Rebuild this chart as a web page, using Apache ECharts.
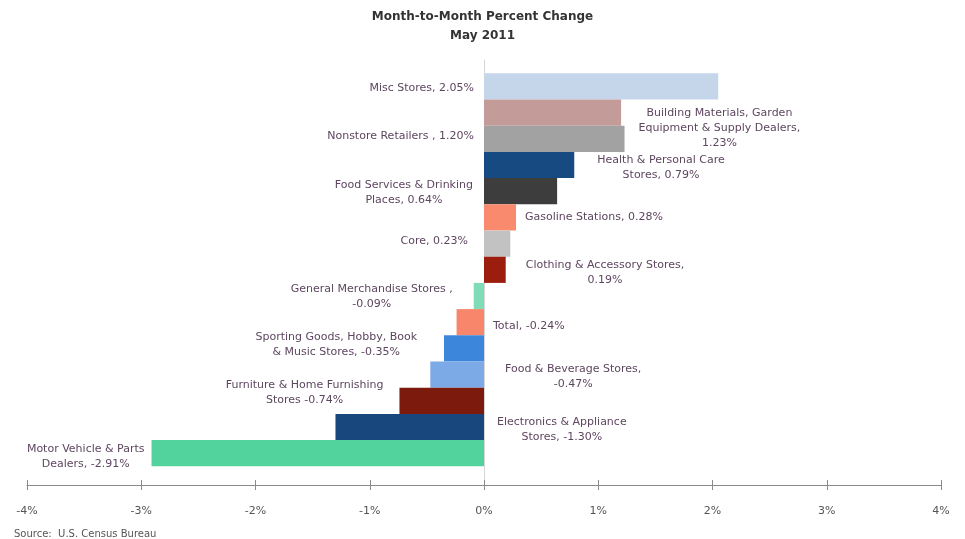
<!DOCTYPE html>
<html>
<head>
<meta charset="utf-8">
<script src="https://cdn.jsdelivr.net/npm/echarts@6/dist/echarts.min.js"></script>
<style>
  html, body { margin: 0; padding: 0; background: #ffffff; }
  #chart { width: 965px; height: 539px; }
</style>
</head>
<body>
<div id="chart"></div>
<script>
// ---------------- DATA ----------------
const categories = [
  "Misc Stores",
  "Nonstore Retailers",
  "Building Materials, Garden Equipment & Supply Dealers",
  "Health & Personal Care Stores",
  "Food Services & Drinking Places",
  "Gasoline Stations",
  "Core",
  "Clothing & Accessory Stores",
  "General Merchandise Stores",
  "Total",
  "Sporting Goods, Hobby, Book & Music Stores",
  "Food & Beverage Stores",
  "Furniture & Home Furnishing Stores",
  "Electronics & Appliance Stores",
  "Motor Vehicle & Parts Dealers"
];
const values = [2.05, 1.20, 1.23, 0.79, 0.64, 0.28, 0.23, 0.19, -0.09, -0.24, -0.35, -0.47, -0.74, -1.30, -2.91];
const labelPrefixes = [
  "Misc Stores, ",
  "Nonstore Retailers , ",
  "Building Materials, Garden\nEquipment & Supply Dealers,\n",
  "Health & Personal Care\nStores, ",
  "Food Services & Drinking\nPlaces, ",
  "Gasoline Stations, ",
  "Core, ",
  "Clothing & Accessory Stores,\n",
  "General Merchandise Stores ,\n",
  "Total, ",
  "Sporting Goods, Hobby, Book\n& Music Stores, ",
  "Food & Beverage Stores,\n",
  "Furniture & Home Furnishing\nStores ",
  "Electronics & Appliance\nStores, ",
  "Motor Vehicle & Parts\nDealers, "
];
const xMin = -4, xMax = 4, xStep = 1;
const titleLines = ["Month-to-Month Percent Change", "May 2011"];
const sourceText = "Source:  U.S. Census Bureau";

// ---------------- STYLE ----------------
const palette = ["#c5d5ea", "#c39b99", "#a2a2a2", "#164a80", "#3d3d3d", "#fa8a6e", "#c2c2c2", "#9a1d0d",
                 "#80dcb6", "#f8866b", "#3c87dc", "#7caae6", "#7b1a0d", "#17477d", "#52d39d"];
const labelSide = ["left","left","right","right","left","right","left","right","left","right","left","right","left","right","left"];
const labelDy   = [1.5, 24, -11, 2.5, 1, 0, -2, 3, 1, 4, -4, 2, -8, 3, 3];
const labelGap  = [10, 10, 14, 23, 11, 9, 16, 20, 21, 9, 27, 21, 16, 13, 7];
const FONT = '"DejaVu Sans", Verdana, sans-serif';
const LABEL_SIZE = 11;
const textColor = "#5e4660";

const ctx = document.createElement("canvas").getContext("2d");
ctx.font = LABEL_SIZE + "px " + FONT;
function blockWidth(t) {
  return Math.max.apply(null, t.split("\n").map(s => ctx.measureText(s).width));
}

const GRID_LEFT = 27, GRID_W = 914;
const BAR_TOP = 73.3, BAR_H = 393;
const AXIS_Y = 485, LINE_TOP = 60;

const barData = values.map((v, i) => {
  const txt = labelPrefixes[i] + v.toFixed(2) + "%";
  const w = blockWidth(txt);
  const left = labelSide[i] === "left";
  return {
    value: v,
    itemStyle: { color: palette[i] },
    label: {
      show: true,
      position: labelSide[i],
      distance: labelGap[i],
      align: "center",
      verticalAlign: "middle",
      offset: [left ? -w / 2 : w / 2, labelDy[i]],
      formatter: () => txt
    }
  };
});

const chart = echarts.init(document.getElementById("chart"), null, { renderer: "canvas" });
chart.setOption({
  animation: false,
  backgroundColor: "#ffffff",
  title: [
    { text: titleLines[0], left: "center", top: 6, textStyle: { fontFamily: FONT, fontSize: 12, fontWeight: "bold", color: "#333" } },
    { text: titleLines[1], left: "center", top: 25, textStyle: { fontFamily: FONT, fontSize: 12, fontWeight: "bold", color: "#333" } },
    { text: sourceText, left: 9, top: 524, textStyle: { fontFamily: FONT, fontSize: 10, fontWeight: "normal", color: "#555" } }
  ],
  grid: [
    { left: GRID_LEFT, width: GRID_W, top: BAR_TOP, height: BAR_H },
    { left: GRID_LEFT, width: GRID_W, top: LINE_TOP, height: AXIS_Y - LINE_TOP }
  ],
  xAxis: [
    {
      gridIndex: 0, type: "value", min: xMin, max: xMax, interval: xStep,
      position: "bottom", offset: AXIS_Y - (BAR_TOP + BAR_H),
      axisLine: { show: false },
      axisTick: { show: true, inside: false, length: 5, lineStyle: { color: "#8a8a8a" } },
      axisLabel: { show: true, margin: 21, formatter: v => v + "%", fontFamily: FONT, fontSize: 11, color: "#555" },
      splitLine: { show: false }
    },
    {
      gridIndex: 1, type: "value", min: xMin, max: xMax, interval: xStep,
      position: "bottom",
      axisLine: { show: true, lineStyle: { color: "#8a8a8a", width: 1 } },
      axisTick: { show: true, inside: true, length: 5, lineStyle: { color: "#8a8a8a" } },
      axisLabel: { show: false },
      splitLine: { show: false }
    }
  ],
  yAxis: [
    {
      gridIndex: 0, type: "category", data: categories, inverse: true,
      axisLine: { show: false }, axisTick: { show: false }, axisLabel: { show: false }
    },
    {
      gridIndex: 1, type: "value", min: 0, max: 1,
      axisLine: { show: true, onZero: true, lineStyle: { color: "#d6d6d6", width: 1 } },
      axisTick: { show: false }, axisLabel: { show: false }, splitLine: { show: false }
    }
  ],
  series: [
    {
      type: "bar", xAxisIndex: 0, yAxisIndex: 0,
      data: barData,
      barWidth: "100%",
      label: { fontFamily: FONT, fontSize: LABEL_SIZE, color: textColor, lineHeight: 15 },
      z: 3
    }
  ]
});
</script>
</body>
</html>
